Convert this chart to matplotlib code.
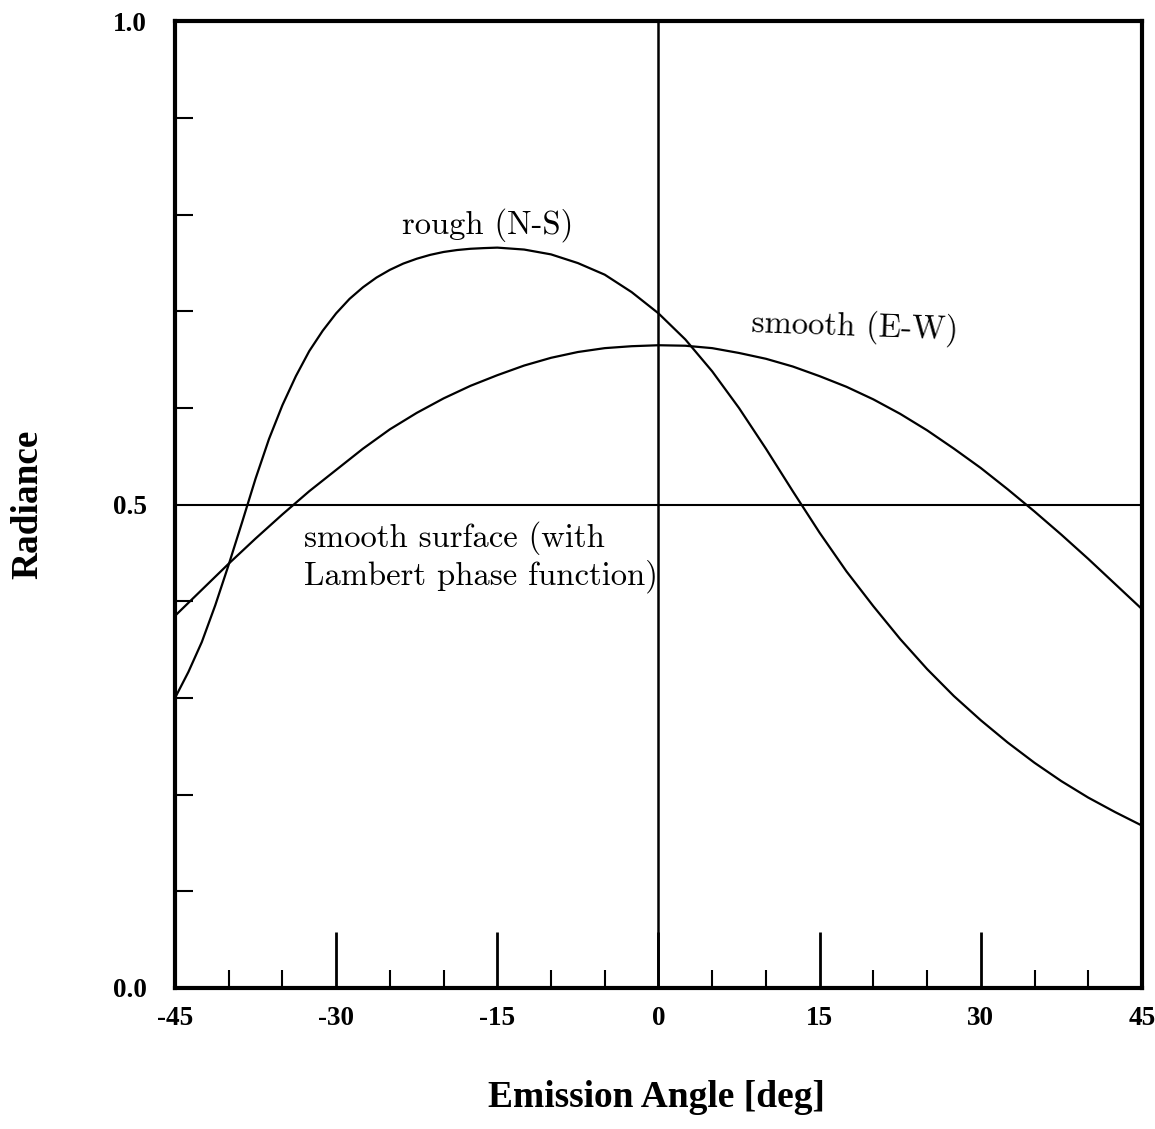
import matplotlib
matplotlib.use("Agg")
import matplotlib.pyplot as plt
from matplotlib.ticker import MultipleLocator

# Rough surface, N-S scan: emission angle [deg] and radiance
rough_angle = [-45, -43.75, -42.5, -41.25, -40, -38.75, -37.5, -36.25, -35, -33.75,
               -32.5, -31.25, -30, -28.75, -27.5, -26.25, -25, -23.75, -22.5, -21.25,
               -20, -18.75, -17.5, -16.25, -15, -12.5, -10, -7.5, -5, -2.5,
               0, 2.5, 5, 7.5, 10, 12.5, 15, 17.5, 20, 22.5,
               25, 27.5, 30, 32.5, 35, 37.5, 40, 42.5, 45]
rough_ns = [0.300, 0.327, 0.358, 0.396, 0.438, 0.482, 0.527, 0.568, 0.603, 0.633,
            0.659, 0.680, 0.698, 0.713, 0.725, 0.735, 0.743, 0.7495, 0.7545, 0.7585,
            0.7615, 0.7635, 0.7648, 0.7655, 0.766, 0.764, 0.759, 0.750, 0.738, 0.720,
            0.698, 0.671, 0.638, 0.600, 0.558, 0.514, 0.471, 0.431, 0.395, 0.361,
            0.330, 0.302, 0.277, 0.254, 0.233, 0.214, 0.197, 0.182, 0.168]

# Smooth surface, E-W scan
smooth_angle = [-45, -42.5, -40, -37.5, -35, -32.5, -30, -27.5, -25, -22.5, -20,
                -17.5, -15, -12.5, -10, -7.5, -5, -2.5, 0, 2.5, 5, 7.5, 10, 12.5,
                15, 17.5, 20, 22.5, 25, 27.5, 30, 32.5, 35, 37.5, 40, 42.5, 45]
smooth_ew = [0.385, 0.412, 0.439, 0.465, 0.490, 0.514, 0.536, 0.558, 0.578, 0.595,
             0.610, 0.623, 0.634, 0.644, 0.652, 0.658, 0.662, 0.664, 0.665, 0.6645,
             0.662, 0.657, 0.651, 0.643, 0.633, 0.622, 0.609, 0.594, 0.577, 0.558,
             0.538, 0.516, 0.493, 0.469, 0.444, 0.418, 0.392]

# Smooth surface with Lambert phase function
lambert_level = 0.5

x_ticks = [-45, -30, -15, 0, 15, 30, 45]
y_ticks = [0.0, 0.5, 1.0]
y_ticklabels = ["0.0", "0.5", "1.0"]

serif_bold = {"family": "Liberation Serif", "weight": "bold"}
label_font = ["cmr10", "DejaVu Serif"]

fig = plt.figure(figsize=(11.55, 11.29), dpi=100)
ax = fig.add_axes([0.1515, 0.1249, 0.8372, 0.8561])

ax.plot(rough_angle, rough_ns, color="black", lw=1.6, solid_joinstyle="round")
ax.plot(smooth_angle, smooth_ew, color="black", lw=1.6, solid_joinstyle="round")
ax.axhline(lambert_level, color="black", lw=1.5)
ax.axvline(0, color="black", lw=1.8)

ax.set_xlim(-45, 45)
ax.set_ylim(0, 1)

for s in ax.spines.values():
    s.set_linewidth(3.0)

ax.set_xticks(x_ticks)
ax.set_xticklabels([str(v) for v in x_ticks], fontdict=serif_bold, fontsize=19.5)
ax.xaxis.set_minor_locator(MultipleLocator(5))
ax.tick_params(axis="x", which="major", direction="in", length=40, width=2.0, pad=13)
ax.tick_params(axis="x", which="minor", direction="in", length=13, width=1.5)

ax.set_yticks(y_ticks)
ax.set_yticklabels(y_ticklabels, fontdict=serif_bold, fontsize=19.5)
ax.yaxis.set_minor_locator(MultipleLocator(0.1))
ax.tick_params(axis="y", which="major", direction="in", length=0, pad=20)
ax.tick_params(axis="y", which="minor", direction="in", length=13, width=1.5)

fig.text(0.0242, 0.5535, "Radiance", rotation=90, ha="center", va="center",
         fontdict=serif_bold, fontsize=26.8)
fig.text(0.5684, 0.0275, "Emission Angle [deg]", ha="center", va="center",
         fontdict=serif_bold, fontsize=27)

ax.text(-23.9, 0.7895, "rough (N-S)", family=label_font, fontsize=23.5,
        ha="left", va="center")
ax.text(8.6, 0.684, "smooth (E-W)", family=label_font, fontsize=23.5,
        ha="left", va="center", rotation=-2)
ax.text(-33.0, 0.4457, "smooth surface (with\nLambert phase function)",
        family=label_font, fontsize=23.5, ha="left", va="center", linespacing=1.2)

fig.savefig("out.png", dpi=100, facecolor="white")
